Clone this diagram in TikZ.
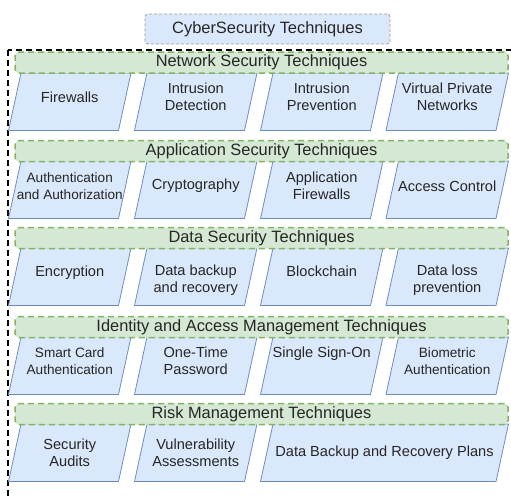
\documentclass[tikz,border=0pt]{standalone}
\usepackage{fontspec}
\setmainfont{Liberation Sans}
\definecolor{pfill}{HTML}{DAE8FC}
\definecolor{pstroke}{HTML}{6C8EBF}
\definecolor{gfill}{HTML}{D5E8D4}
\definecolor{gstroke}{HTML}{82B366}
\definecolor{txt}{HTML}{262626}
\definecolor{tstroke}{HTML}{9A9A9A}
% #1 extra text style, #2 name, #3 top-left x, #4 top y, #5 top width, #6 text y, #7 text
\newcommand\pgram[7][]{%
  \draw[pg] (#3,#4) -- ++(#5,0) -- ++(-12.5,57.5) -- ++(-#5,0) -- cycle;
  \node[pgtext,#1] (#2) at ({#3+#5/2-6.25},#6) {#7};}
\begin{document}
\begin{tikzpicture}[x=1pt,y=-1pt,
  pg/.style={draw=pstroke, fill=pfill, line width=0.8pt},
  pgtext/.style={font=\fontsize{14.6}{17}\selectfont, text=txt, align=center, inner sep=0pt},
  smalltext/.style={font=\fontsize{13.6}{17}\selectfont},
  cat/.style={draw=gstroke, fill=gfill, dash pattern=on 6pt off 4pt, line width=1.5pt,
    rounded corners=4pt, minimum width=493pt, minimum height=21pt, inner sep=0pt,
    font=\fontsize{16.4}{19}\selectfont, text=txt},
  titlebox/.style={draw=tstroke, fill=pfill, dash pattern=on 3pt off 2pt, line width=0.8pt,
    rounded corners=3pt, minimum width=245pt, minimum height=30pt, inner sep=0pt,
    font=\fontsize{16.4}{19}\selectfont, text=txt},
  outer/.style={draw=black, line width=1.8pt, dash pattern=on 6pt off 4pt}
]
\useasboundingbox (0,0) rectangle (511,498);
\fill[white] (0,0) rectangle (511,498);
\begin{scope}
  \clip (0,0) rectangle (511,498);
  \draw[outer] (8,50) rectangle (540,530);
\end{scope}

\node[titlebox] (title) at (267.5,29) {CyberSecurity Techniques};

% Row 1
\pgram{fw}{21}{73}{110}{97}{Firewalls}
\pgram{ids}{147}{73}{110}{97}{Intrusion\\Detection}
\pgram{ips}{273}{73}{110}{97}{Intrusion\\Prevention}
\pgram{vpn}{398.5}{73}{110}{97}{Virtual Private\\Networks}
% Row 2
\pgram[smalltext]{auth}{21}{161}{110}{186}{Authentication\\and Authorization}
\pgram{crypt}{147}{161}{110}{186}{Cryptography}
\pgram{appfw}{273}{161}{110}{186}{Application\\Firewalls}
\pgram{acc}{398.5}{161}{110}{186}{Access Control}
% Row 3
\pgram{enc}{21}{248}{110}{280}{Encryption\\\mbox{}}
\pgram{backup}{147}{248}{110}{280}{Data backup\\and recovery}
\pgram{block}{273}{248}{110}{280}{Blockchain\\\mbox{}}
\pgram{dlp}{398.5}{248}{110}{280}{Data loss\\prevention}
% Row 4
\pgram[smalltext]{smart}{21}{337}{110}{361}{Smart Card\\Authentication}
\pgram{otp}{147}{337}{110}{361}{One-Time\\Password}
\pgram{sso}{273}{337}{110}{361}{Single Sign-On\\\mbox{}}
\pgram[smalltext]{bio}{398.5}{337}{110}{361}{Biometric\\Authentication}
% Row 5
\pgram{audit}{21}{424}{110}{453}{Security\\Audits}
\pgram{vuln}{147}{424}{110}{453}{Vulnerability\\Assessments}
\pgram{plans}{273}{424}{235.5}{453}{Data Backup and Recovery Plans}

% Category bars
\node[cat] (net) at (261.5,62.5) {Network Security Techniques};
\node[cat] (app) at (261.5,151) {Application Security Techniques};
\node[cat] (data) at (261.5,238) {Data Security Techniques};
\node[cat] (iam) at (261.5,327) {Identity and Access Management Techniques};
\node[cat] (risk) at (261.5,414) {Risk Management Techniques};
\end{tikzpicture}
\end{document}
